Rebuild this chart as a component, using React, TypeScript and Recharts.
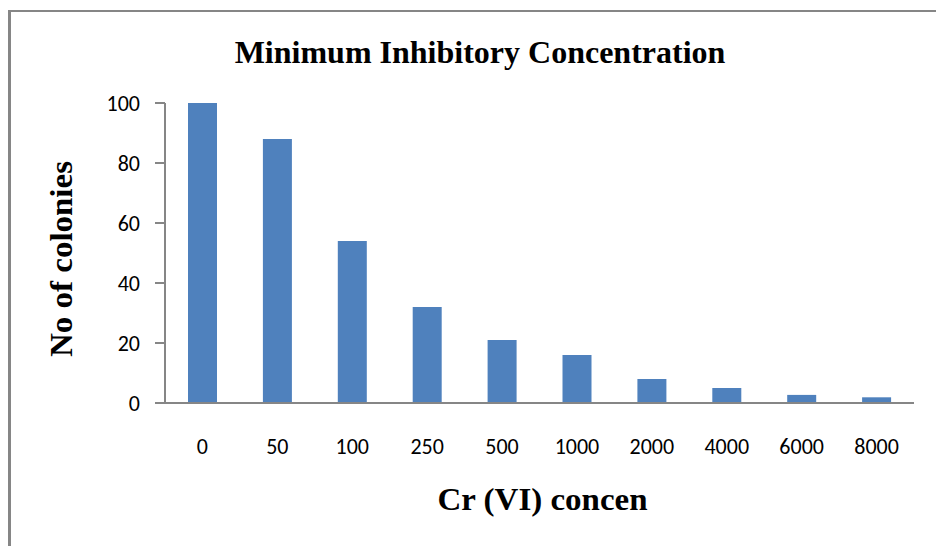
import React from 'react';
import { BarChart, Bar, XAxis, YAxis, Customized } from 'recharts';

const categories = ['0', '50', '100', '250', '500', '1000', '2000', '4000', '6000', '8000'];
const colonies = [100, 88, 54, 32, 21, 16, 8, 5, 2.7, 1.9];
const yTicks = [0, 20, 40, 60, 80, 100];

const titleText = 'Minimum Inhibitory Concentration';
const xLabelText = 'Cr (VI) concen';
const yLabelText = 'No of colonies';

const data = categories.map((c, i) => ({ conc: c, colonies: colonies[i] }));

const SERIF = '"Liberation Serif", "Times New Roman", serif';
const SANS = 'Carlito, Calibri, "Liberation Sans", sans-serif';
const AXIS = '#868686';

const Title = () => (
  <text x={480} y={63} textAnchor="middle" fontFamily={SERIF} fontWeight="bold" fontSize={32} fill="#000">
    {titleText}
  </text>
);

const XLabel = (props: any) => {
  const vb = props.viewBox || {};
  const cx = vb.x + vb.width / 2 + 3;
  return (
    <text x={cx} y={510} textAnchor="middle" fontFamily={SERIF} fontWeight="bold" fontSize={31}
      textLength={210} lengthAdjust="spacingAndGlyphs" fill="#000">
      {xLabelText}
    </text>
  );
};

const YLabel = () => {
  const x = 72;
  const y = 259;
  return (
    <text x={x} y={y} transform={`rotate(-90, ${x}, ${y})`} textAnchor="middle" fontFamily={SERIF}
      fontWeight="bold" fontSize={31} textLength={196} lengthAdjust="spacingAndGlyphs" fill="#000">
      {yLabelText}
    </text>
  );
};

export default function App() {
  return (
    <div style={{ position: 'absolute', left: 0, top: 0, width: 936, height: 546, background: '#fff' }}>
      <div
        style={{
          position: 'absolute', left: 8, top: 10, width: 928, height: 536, boxSizing: 'border-box',
          borderTop: `2px solid ${AXIS}`, borderLeft: `3px solid ${AXIS}`,
        }}
      />
      <div style={{ position: 'absolute', left: 0, top: 0 }}>
        <BarChart width={936} height={546} data={data} margin={{ top: 103, right: 22, bottom: 0, left: 0 }}>
          <XAxis
            dataKey="conc"
            height={143}
            tickLine={false}
            tickSize={0}
            tickMargin={35}
            axisLine={{ stroke: AXIS, strokeWidth: 2 }}
            tick={{ fill: '#000', fontSize: 22, fontFamily: SANS }}
            interval={0}
            label={<XLabel />}
          />
          <YAxis
            width={165}
            domain={[0, 100]}
            ticks={yTicks}
            tickSize={10}
            tickMargin={15}
            tickLine={{ stroke: AXIS, strokeWidth: 2 }}
            axisLine={{ stroke: AXIS, strokeWidth: 2 }}
            tick={{ fill: '#000', fontSize: 22, fontFamily: SANS }}
            label={<YLabel />}
          />
          <Bar dataKey="colonies" fill="#4F81BD" barSize={29} isAnimationActive={false} />
          <Customized component={Title} />
        </BarChart>
      </div>
    </div>
  );
}
